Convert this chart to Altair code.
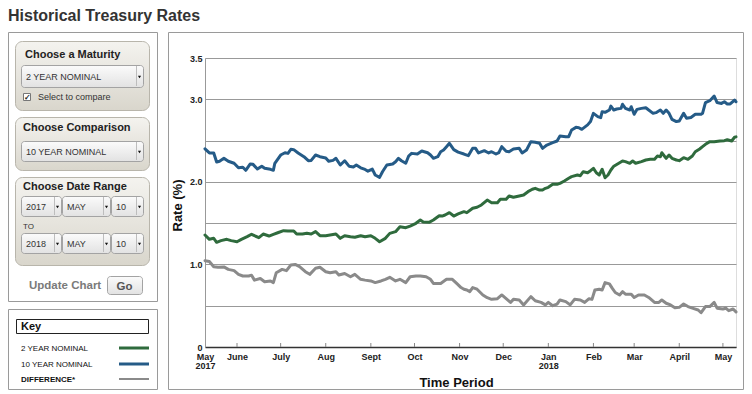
import altair as alt
import pandas as pd

# ---------------- data ----------------
START = "2017-05-10"
SERIES = ["2 YEAR NOMINAL", "10 YEAR NOMINAL", "DIFFERENCE*"]
COLORS = ["#2f6b3d", "#255b87", "#8a8a8a"]

days_10y = [0, 3, 6, 8, 10, 13, 16, 20, 23, 26, 28, 31, 33, 36, 39, 41, 45, 47, 48, 52,
            55, 57, 59, 61, 64, 68, 71, 73, 76, 79, 83, 85, 88, 90, 93, 96, 99, 102, 104, 107,
            110, 112, 115, 117, 120, 122, 125, 129, 131, 133, 135, 138, 140, 142, 146, 149, 153, 155, 157, 160,
            162, 164, 166, 168, 171, 174, 178, 181, 184, 186, 188, 192, 195, 197, 200, 202, 204, 207, 209, 212,
            216, 218, 221, 224, 227, 230, 232, 235, 239, 242, 244, 248, 250, 252, 255, 257, 259, 263, 265, 267,
            270, 272, 273, 275, 278, 279, 281, 283, 286, 287, 289, 292, 293, 295, 297, 300, 303, 305, 308, 310,
            313, 315, 317, 319, 321, 324, 326, 329, 331, 334, 337, 341, 342, 344, 347, 350, 352, 355, 357, 359,
            361, 364, 365]
rate_10y = [2.40, 2.35, 2.35, 2.24, 2.25, 2.285, 2.25, 2.225, 2.17, 2.176, 2.14, 2.216, 2.212, 2.156, 2.19, 2.164, 2.152, 2.14, 2.225, 2.325,
            2.353, 2.345, 2.394, 2.39, 2.35, 2.305, 2.256, 2.26, 2.325, 2.305, 2.29, 2.25, 2.26, 2.285, 2.204, 2.256, 2.19, 2.18, 2.204, 2.17,
            2.15, 2.13, 2.155, 2.083, 2.055, 2.123, 2.204, 2.216, 2.244, 2.285, 2.256, 2.225, 2.313, 2.345, 2.337, 2.374, 2.353, 2.325, 2.285, 2.305,
            2.365, 2.386, 2.426, 2.467, 2.39, 2.36, 2.337, 2.317, 2.406, 2.406, 2.35, 2.378, 2.35, 2.365, 2.337, 2.355, 2.426, 2.37, 2.365, 2.398,
            2.406, 2.35, 2.386, 2.487, 2.479, 2.467, 2.406, 2.446, 2.475, 2.495, 2.555, 2.547, 2.547, 2.628, 2.66, 2.656, 2.636, 2.69, 2.73, 2.83,
            2.79, 2.777, 2.85, 2.842, 2.87, 2.918, 2.87, 2.882, 2.89, 2.94, 2.89, 2.87, 2.91, 2.818, 2.878, 2.89, 2.898, 2.87, 2.83, 2.838,
            2.87, 2.83, 2.87, 2.83, 2.757, 2.73, 2.737, 2.83, 2.77, 2.78, 2.818, 2.818, 2.83, 2.96, 2.983, 3.04, 2.96, 2.95, 2.97, 2.943,
            2.943, 2.99, 2.97]

days_2y = [0, 3, 6, 8, 11, 15, 18, 22, 25, 29, 32, 34, 37, 40, 44, 47, 50, 54, 57, 61,
           63, 67, 70, 73, 76, 79, 83, 86, 90, 93, 96, 100, 103, 107, 110, 114, 117, 120, 124, 127,
           131, 134, 138, 141, 145, 148, 150, 154, 157, 161, 163, 165, 168, 171, 174, 178, 180, 184, 187, 190,
           194, 197, 201, 203, 207, 209, 212, 216, 219, 222, 225, 227, 230, 232, 234, 236, 239, 242, 244, 247,
           250, 252, 256, 258, 260, 263, 265, 267, 269, 271, 273, 275, 277, 279, 281, 285, 287, 289, 292, 294,
           296, 300, 303, 306, 309, 311, 313, 314, 317, 319, 321, 324, 326, 329, 332, 335, 337, 340, 342, 344,
           347, 350, 354, 357, 359, 362, 364, 365]
rate_2y = [1.356, 1.304, 1.316, 1.268, 1.288, 1.304, 1.288, 1.275, 1.304, 1.336, 1.365, 1.348, 1.324, 1.368, 1.344, 1.365, 1.384, 1.409, 1.405, 1.405,
           1.368, 1.368, 1.377, 1.368, 1.397, 1.348, 1.348, 1.356, 1.368, 1.316, 1.348, 1.336, 1.33, 1.348, 1.336, 1.348, 1.316, 1.275, 1.316, 1.376,
           1.397, 1.457, 1.445, 1.465, 1.498, 1.538, 1.514, 1.51, 1.538, 1.59, 1.586, 1.599, 1.627, 1.586, 1.611, 1.639, 1.627, 1.68, 1.692, 1.72,
           1.78, 1.748, 1.748, 1.789, 1.789, 1.829, 1.813, 1.829, 1.841, 1.881, 1.91, 1.922, 1.901, 1.901, 1.922, 1.934, 1.97, 1.97, 1.982, 2.01,
           2.043, 2.063, 2.083, 2.075, 2.123, 2.11, 2.135, 2.164, 2.11, 2.083, 2.152, 2.05, 2.083, 2.144, 2.19, 2.232, 2.253, 2.245, 2.225, 2.253,
           2.225, 2.245, 2.265, 2.273, 2.273, 2.313, 2.305, 2.353, 2.285, 2.325, 2.285, 2.265, 2.257, 2.293, 2.273, 2.313, 2.365, 2.398, 2.426, 2.455,
           2.487, 2.487, 2.495, 2.499, 2.51, 2.495, 2.54, 2.545]

days_diff = [0, 3, 6, 9, 13, 16, 20, 23, 26, 30, 32, 34, 38, 41, 45, 47, 49, 53, 56, 59,
             62, 65, 69, 72, 76, 79, 83, 86, 90, 92, 96, 100, 103, 107, 110, 114, 117, 121, 124, 127,
             131, 134, 138, 141, 145, 148, 152, 155, 157, 162, 166, 170, 173, 176, 178, 180, 182, 184, 187, 191,
             194, 197, 201, 204, 207, 210, 212, 216, 219, 224, 227, 231, 234, 236, 239, 242, 244, 248, 251, 254,
             258, 261, 264, 266, 268, 271, 273, 275, 278, 280, 282, 285, 287, 289, 293, 295, 298, 302, 305, 309,
             312, 314, 317, 320, 323, 326, 329, 332, 335, 339, 341, 344, 347, 350, 352, 356, 358, 360, 363, 365]
rate_diff = [1.045, 1.035, 0.973, 0.965, 0.97, 0.94, 0.925, 0.88, 0.86, 0.86, 0.87, 0.81, 0.83, 0.79, 0.80, 0.78, 0.90, 0.94, 0.925, 0.993,
             1.0, 0.973, 0.912, 0.88, 0.953, 0.965, 0.912, 0.90, 0.912, 0.872, 0.89, 0.851, 0.88, 0.82, 0.81, 0.80, 0.78, 0.80, 0.82, 0.844,
             0.80, 0.82, 0.78, 0.851, 0.86, 0.86, 0.85, 0.82, 0.77, 0.77, 0.82, 0.82, 0.77, 0.72, 0.70, 0.69, 0.67, 0.72, 0.70, 0.63,
             0.597, 0.577, 0.585, 0.63, 0.585, 0.54, 0.577, 0.57, 0.51, 0.61, 0.56, 0.54, 0.51, 0.54, 0.50, 0.52, 0.57, 0.55, 0.51, 0.577,
             0.57, 0.54, 0.585, 0.577, 0.69, 0.70, 0.69, 0.78, 0.765, 0.71, 0.66, 0.63, 0.67, 0.64, 0.64, 0.60, 0.63, 0.63, 0.60, 0.54,
             0.54, 0.57, 0.53, 0.51, 0.476, 0.48, 0.52, 0.49, 0.47, 0.448, 0.415, 0.49, 0.49, 0.54, 0.47, 0.46, 0.47, 0.44, 0.46, 0.425]

tick_dates = ["2017-05-10", "2017-06-01", "2017-07-01", "2017-08-01", "2017-09-01", "2017-10-01",
              "2017-11-01", "2017-12-01", "2018-01-01", "2018-02-01", "2018-03-01", "2018-04-01", "2018-05-01"]
y_ticks = [0, 0.5, 1.0, 1.5, 2.0, 2.5, 3.0, 3.5]

# ---------------- tables ----------------
def to_dates(days):
    base = pd.Timestamp(START)
    return [(base + pd.Timedelta(days=int(d))).strftime("%Y-%m-%d") for d in days]

lines = pd.concat([
    pd.DataFrame({"date": to_dates(days_diff), "rate": rate_diff, "series": SERIES[2], "order": 0}),
    pd.DataFrame({"date": to_dates(days_2y), "rate": rate_2y, "series": SERIES[0], "order": 1}),
    pd.DataFrame({"date": to_dates(days_10y), "rate": rate_10y, "series": SERIES[1], "order": 2}),
], ignore_index=True)
ticks_df = pd.DataFrame({"date": tick_dates[1:]})

FONT = "Liberation Sans"
X0, Y0 = 205, 58  # page position of the plot origin
W, H = 531, 289
one = pd.DataFrame({"k": [0]})

x_scale = alt.Scale(type="utc", domain=[alt.DateTime(year=2017, month=5, date=10, utc=True),
                                        alt.DateTime(year=2018, month=5, date=10, utc=True)])
y_scale = alt.Scale(domain=[0, 3.5], nice=False, zero=True)

month_expr = ("utcdate(datum.value) == 10 ? ['May', '2017'] : "
              "(utcmonth(datum.value) == 0 ? ['Jan', '2018'] : "
              "['Jan','Feb','Mar','April','May','June','July','Aug','Sept','Oct','Nov','Dec'][utcmonth(datum.value)])")

x_axis = alt.Axis(values=[alt.DateTime(year=int(d[:4]), month=int(d[5:7]), date=int(d[8:]), utc=True) for d in tick_dates],
                  labelExpr=month_expr, grid=False, ticks=False, domainColor="#333", domainWidth=1.5,
                  labelFont=FONT, labelFontSize=9, labelFontWeight="bold", labelColor="#222",
                  labelPadding=5, labelLineHeight=9, labelFlush=False, labelOverlap=False,
                  title="Time Period", titleFont=FONT, titleFontSize=13, titleFontWeight="bold",
                  titleColor="#111", titleX=456 - X0, titleY=386 - (Y0 + H), titleAnchor="middle",
                  titleAlign="center", titleBaseline="alphabetic")
y_axis = alt.Axis(values=y_ticks,
                  labelExpr="datum.value == 0 ? '0' : ((datum.value == 0.5 || datum.value == 1.5 || datum.value == 2.5) ? '' : format(datum.value, '.1f'))",
                  grid=True, gridColor="#999", gridWidth=1, ticks=False, domainColor="#999",
                  labelFont=FONT, labelFontSize=9, labelFontWeight="bold", labelColor="#222", labelPadding=3,
                  title="Rate (%)", titleFont=FONT, titleFontSize=13, titleFontWeight="bold", titleColor="#111",
                  titleX=177 - X0, titleY=205 - Y0, titleAngle=270, titleAlign="center", titleBaseline="middle")

series_lines = alt.Chart(lines).mark_line(strokeJoin="round", strokeCap="round").encode(
    x=alt.X("date:T", scale=x_scale, axis=x_axis),
    y=alt.Y("rate:Q", scale=y_scale, axis=y_axis),
    color=alt.Color("series:N", scale=alt.Scale(domain=SERIES, range=COLORS), legend=None),
    strokeWidth=alt.StrokeWidth("series:N", scale=alt.Scale(domain=SERIES, range=[3, 3, 2]), legend=None),
    detail="series:N",
    order=alt.Order("order:Q"),
)

month_ticks = alt.Chart(ticks_df).mark_rule(color="#888", strokeWidth=1).encode(
    x=alt.X("date:T", scale=x_scale, axis=x_axis),
    y=alt.value(H - 4), y2=alt.value(H),
)

# ---------------- page furniture ----------------
def grad(c1, c2):
    return {"gradient": "linear", "x1": 0, "y1": 0, "x2": 0, "y2": 1,
            "stops": [{"offset": 0, "color": c1}, {"offset": 1, "color": c2}]}

def box(x1, y1, x2, y2, fill="transparent", stroke="#999", radius=0, sw=1):
    return alt.Chart(one).mark_rect(fill=fill, stroke=stroke, strokeWidth=sw, cornerRadius=radius).encode(
        x=alt.value(x1 - X0 + 0.5), x2=alt.value(x2 - X0 + 0.5),
        y=alt.value(y1 - Y0 + 0.5), y2=alt.value(y2 - Y0 + 0.5))

def txt(s, x, y, size=9, weight="normal", color="#222", align="left"):
    return alt.Chart(one).mark_text(text=s, align=align, baseline="alphabetic", font=FONT,
                                    fontSize=size, fontWeight=weight, color=color).encode(
        x=alt.value(x - X0), y=alt.value(y - Y0))

def hline(x1, x2, y, color, sw):
    return alt.Chart(one).mark_rule(color=color, strokeWidth=sw).encode(
        x=alt.value(x1 - X0), x2=alt.value(x2 - X0), y=alt.value(y - Y0))

def vline(x, y1, y2, color="#bbb"):
    return alt.Chart(one).mark_rule(color=color, strokeWidth=1).encode(
        x=alt.value(x - X0 + 0.5), y=alt.value(y1 - Y0), y2=alt.value(y2 - Y0))

def arrow(x, y):
    return alt.Chart(one).mark_point(shape="triangle-down", filled=True, size=10, color="#111", opacity=1).encode(
        x=alt.value(x - X0), y=alt.value(y - Y0))

GROUP = grad("#f4f3ef", "#d9d6cc")
DROP = grad("#fbfbfb", "#e2e2e2")

def dropdown(x1, y1, x2, y2, label):
    return [box(x1, y1, x2, y2, fill=DROP, stroke="#a3a3a3", radius=3),
            vline(x2 - 7, y1 + 1, y2 - 1, "#bdbdbd"),
            arrow(x2 - 3.5, (y1 + y2) / 2 + 1),
            txt(label, x1 + 5, (y1 + y2) / 2 + 3.5, size=9, color="#333")]

furn = []
furn.append(txt("Historical Treasury Rates", 8, 21, size=16, weight="bold", color="#333"))
furn.append(box(8, 32, 157, 301, stroke="#9a9a9a"))
furn.append(box(8, 309, 157, 389, stroke="#9a9a9a"))
furn.append(box(168, 32, 743, 389, stroke="#9a9a9a"))
# maturity
furn.append(box(15, 41, 149, 110, fill=GROUP, stroke="#b8b5ab", radius=7))
furn.append(txt("Choose a Maturity", 25, 58, size=11, weight="bold", color="#222"))
furn += dropdown(21, 65, 143, 87, "2 YEAR NOMINAL")
furn.append(box(23, 93, 30, 100, fill="#ffffff", stroke="#777"))
furn.append(txt("✓", 23.5, 100, size=8, weight="bold", color="#222"))
furn.append(txt("Select to compare", 38, 100, size=9, color="#333"))
# comparison
furn.append(box(15, 117, 149, 170, fill=GROUP, stroke="#b8b5ab", radius=7))
furn.append(txt("Choose Comparison", 23, 131, size=11, weight="bold", color="#222"))
furn += dropdown(21, 141, 143, 161, "10 YEAR NOMINAL")
# date range
furn.append(box(15, 177, 149, 265, fill=GROUP, stroke="#b8b5ab", radius=7))
furn.append(txt("Choose Date Range", 23, 190, size=11, weight="bold", color="#222"))
furn += dropdown(21, 196, 61, 216, "2017")
furn += dropdown(62, 196, 110, 216, "MAY")
furn += dropdown(111, 196, 143, 216, "10")
furn.append(txt("TO", 23, 229, size=8, color="#333"))
furn += dropdown(21, 233, 61, 253, "2018")
furn += dropdown(62, 233, 110, 253, "MAY")
furn += dropdown(111, 233, 143, 253, "10")
# update
furn.append(txt("Update Chart", 29, 289, size=11.5, weight="bold", color="#7a7a7a"))
furn.append(box(107, 276, 142, 294, fill=DROP, stroke="#a3a3a3", radius=3))
furn.append(txt("Go", 124.5, 289.5, size=11.5, weight="bold", color="#555", align="center"))
# key
furn.append(box(16, 319, 148, 333, fill="#ffffff", stroke="#222"))
furn.append(txt("Key", 21, 330, size=11, weight="bold", color="#111"))
key_y = [351, 367, 382]
for name, col, sw, yy in zip(SERIES, COLORS, [3, 3, 2], key_y):
    furn.append(txt(name, 21, yy, size=8, weight="bold" if name.startswith("DIFF") else "normal", color="#111"))
    furn.append(hline(119, 149, yy - 3, col, sw))

chart = alt.layer(*furn, month_ticks, series_lines).properties(
    width=W, height=H,
    padding={"left": 197, "top": 50, "right": 8, "bottom": 39 + 7},
    autosize=alt.AutoSizeParams(type="none"),
).configure_view(stroke=None).configure(background="#ffffff")

chart.save("out.html", embed_options={"renderer": "svg", "actions": False})
